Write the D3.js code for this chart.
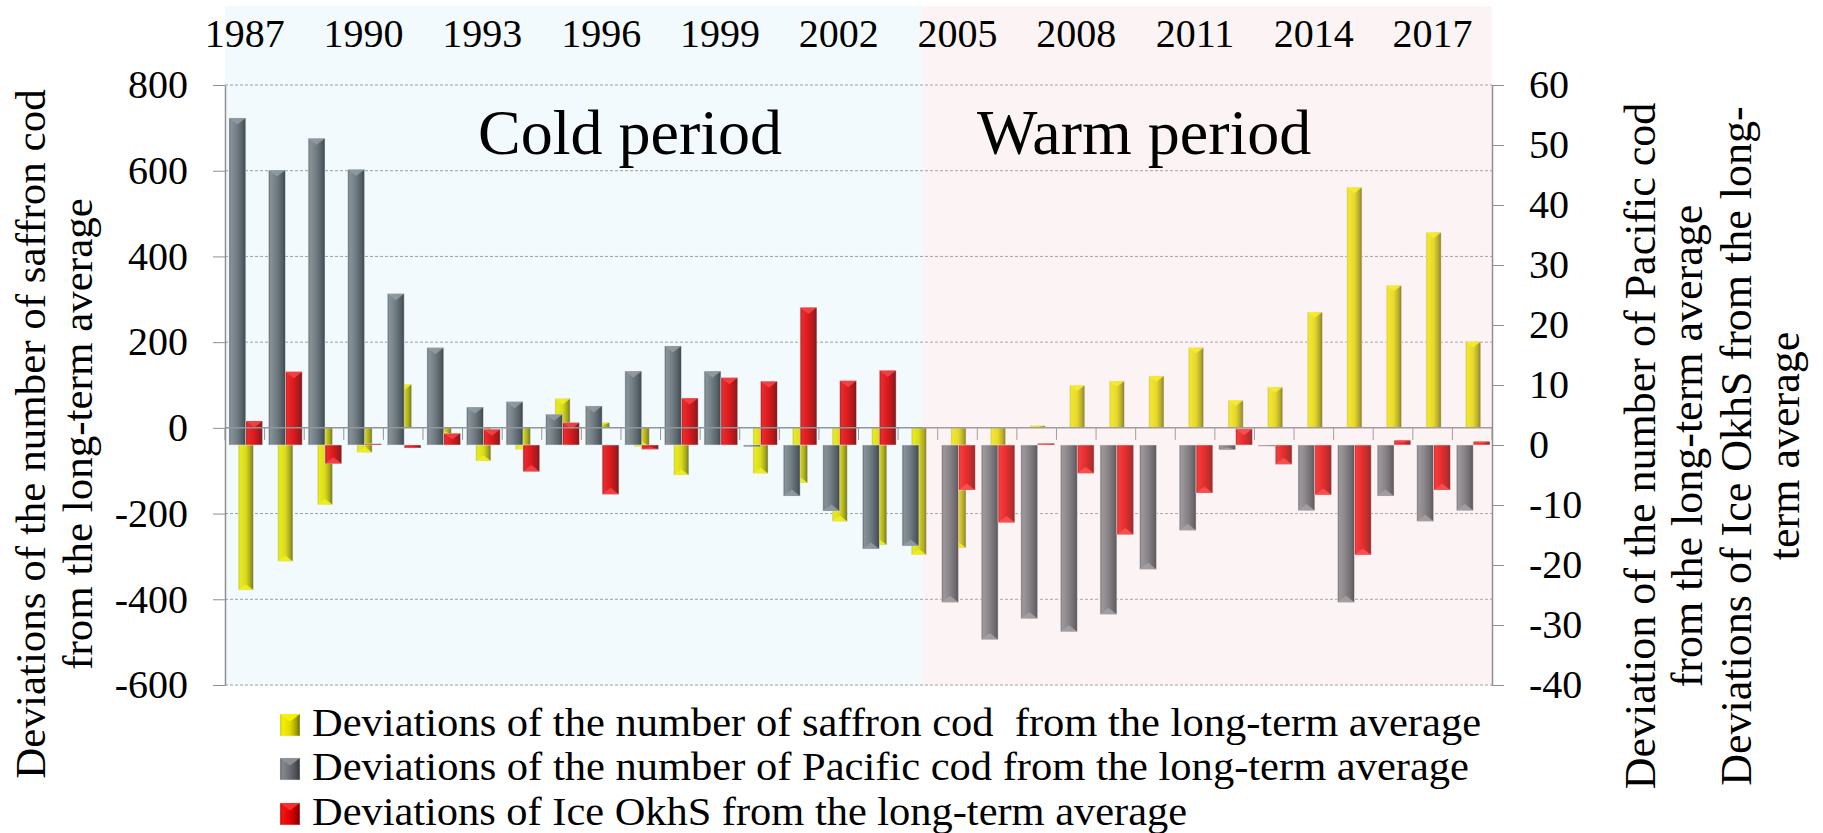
<!DOCTYPE html>
<html><head><meta charset="utf-8">
<script src="https://cdn.jsdelivr.net/npm/d3@7"></script>
<style>
html,body{margin:0;padding:0;background:#fff;}
svg{display:block;font-family:"Liberation Serif","Times New Roman",serif;}
</style></head><body>
<svg id="chart" width="1823" height="833"></svg>
<script>
// ---------------- DATA ----------------
const years = [1987,1988,1989,1990,1991,1992,1993,1994,1995,1996,1997,1998,1999,2000,2001,2002,
               2003,2004,2005,2006,2007,2008,2009,2010,2011,2012,2013,2014,2015,2016,2017,2018];
const yearTickLabels = [1987,1990,1993,1996,1999,2002,2005,2008,2011,2014,2017];
// saffron cod deviations (left axis)
const saffronCod = [-378,-311,-179,-57,101,-15,-77,-50,68,12,-44,-110,20,-106,-128,-218,
                    -273,-296,-280,-150,5,99,109,121,187,64,95,270,561,332,456,201];
// Pacific cod deviations (right axis)
const pacificCod = [54.5,45.8,51.1,45.9,25.2,16.2,6.3,7.2,5.1,6.5,12.3,16.5,12.3,-0.3,-8.5,-11.0,
                    -17.3,-16.8,-26.2,-32.4,-28.9,-31.1,-28.2,-20.7,-14.2,-0.8,-0.2,-10.9,-26.2,-8.5,-12.7,-10.9];
// Ice OkhS deviations (right axis)
const iceOkhS = [4.0,12.2,-3.1,0.2,-0.5,1.9,2.6,-4.4,3.7,-8.2,-0.7,7.8,11.2,10.6,22.9,10.7,
                 12.4,0,-7.5,-12.9,0.3,-4.7,-14.9,0,-8.0,2.7,-3.2,-8.3,-18.3,0.8,-7.5,0.6];
const leftTicks = [-600,-400,-200,0,200,400,600,800];
const rightTicks = [-40,-30,-20,-10,0,10,20,30,40,50,60];
const seriesNames = [
  "Deviations of the number of saffron cod  from the long-term average",
  "Deviations of the number of Pacific cod from the long-term average",
  "Deviations of Ice OkhS from the long-term average"
];
const periodLabels = ["Cold period","Warm period"];
const leftTitle = ["Deviations of the number of saffron cod","from the long-term average"];
const rightTitle = ["Deviation of the number of Pacific cod","from the long-term average",
                    "Deviations of Ice OkhS from the long-","term average"];

// ---------------- LAYOUT ----------------
const svg = d3.select("#chart");
const P = {left:225, right:1492, top:85, bottom:685};
const x = d3.scaleBand().domain(years).range([P.left, P.right]);
const yL = d3.scaleLinear().domain([-600,800]).range([P.bottom, P.top]);
const yR = d3.scaleLinear().domain([-40,60]).range([P.bottom, P.top]);
const bw = x.bandwidth();

const defs = svg.append("defs");
const styles = {
  yellow:{stops:[[0,'#c9c400'],[0.12,'#f4ee00'],[0.5,'#e2dc00'],[0.8,'#a9a400'],[1,'#6a6600']], cap:'#faf400'},
  gray:{stops:[[0,'#55595d'],[0.12,'#85898d'],[0.45,'#6e7276'],[0.8,'#4c5054'],[1,'#303438']], cap:'#909498'},
  red:{stops:[[0,'#b00000'],[0.12,'#f41414'],[0.5,'#e20000'],[0.8,'#ac0000'],[1,'#760000']], cap:'#ff3030'}
};
Object.entries(styles).forEach(([k,s])=>{
  const g = defs.append("linearGradient").attr("id","g_"+k).attr("x1",0).attr("x2",1).attr("y1",0).attr("y2",0);
  s.stops.forEach(([o,c])=>g.append("stop").attr("offset",o).attr("stop-color",c));
});

// gridlines
svg.append("g").selectAll("line").data(leftTicks.filter(d=>d!==0)).join("line")
  .attr("x1",P.left).attr("x2",P.right).attr("y1",d=>yL(d)).attr("y2",d=>yL(d))
  .attr("stroke","#9a9a9a").attr("stroke-width",1).attr("stroke-dasharray","3,2");

function drawBar(g, x0, w, yZero, yVal, style){
  const top = Math.min(yZero,yVal), h = Math.abs(yVal-yZero);
  if (h <= 0) return;
  g.append("rect").attr("x",x0).attr("y",top).attr("width",w).attr("height",h)
    .attr("fill","url(#g_"+style+")").attr("stroke","rgba(235,235,235,0.7)").attr("stroke-width",0.7);
  const d = Math.min(w*0.38, h*0.5);
  if (d < 1) return;
  const pts = yVal < yZero
    ? [[x0,yVal],[x0+w,yVal],[x0+w/2,yVal+d]]
    : [[x0,yVal],[x0+w,yVal],[x0+w/2,yVal-d]];
  g.append("polygon").attr("points",pts.map(p=>p.join(",")).join(" "))
    .attr("fill",styles[style].cap).attr("opacity",0.9);
}

// primary series (saffron cod)
const gY = svg.append("g");
years.forEach((yr,i)=>{
  const c = x(yr)+bw/2+1;
  drawBar(gY, c-7.5, 15, yL(0), yL(saffronCod[i]), "yellow");
});
// secondary series (Pacific cod, ice)
const gS = svg.append("g");
years.forEach((yr,i)=>{
  const c = x(yr)+bw/2+1;
  drawBar(gS, c-16.8, 16.8, yR(0), yR(pacificCod[i]), "gray");
  drawBar(gS, c, 16.8, yR(0), yR(iceOkhS[i]), "red");
});

// category axis line at left zero + ticks at band boundaries
const axC = svg.append("g").attr("stroke","#8f8f8f");
axC.append("line").attr("x1",P.left).attr("x2",P.right).attr("y1",yL(0)).attr("y2",yL(0)).attr("stroke-width",1.5);
axC.selectAll("line.t").data(years.concat([null])).join("line").attr("class","t")
  .attr("x1",(d,i)=>P.left+i*bw).attr("x2",(d,i)=>P.left+i*bw)
  .attr("y1",yL(0)).attr("y2",yL(0)+12).attr("stroke-width",1);

// period overlays
const boundary = x(2004)+bw*0.62;
svg.append("rect").attr("x",P.left).attr("y",6).attr("width",boundary-P.left).attr("height",P.bottom-6)
  .attr("fill","rgb(155,210,235)").attr("opacity",0.12);
svg.append("rect").attr("x",boundary).attr("y",6).attr("width",P.right-boundary).attr("height",P.bottom-6)
  .attr("fill","rgb(240,205,205)").attr("opacity",0.22);

// left axis
const axL = svg.append("g").attr("transform",`translate(${P.left},0)`)
  .call(d3.axisLeft(yL).tickValues(leftTicks).tickFormat(d=>String(d)).tickSize(12).tickPadding(25).tickSizeOuter(0));
axL.select(".domain").attr("stroke","#8f8f8f").attr("stroke-width",1.5);
axL.selectAll(".tick line").attr("stroke","#8f8f8f");
axL.selectAll("text").attr("font-family","Liberation Serif").attr("font-size",40).attr("fill","#000");

// right axis
const axR = svg.append("g").attr("transform",`translate(${P.right},0)`)
  .call(d3.axisRight(yR).tickValues(rightTicks).tickFormat(d=>String(d)).tickSize(12).tickPadding(25).tickSizeOuter(0));
axR.select(".domain").attr("stroke","#8f8f8f").attr("stroke-width",1.5);
axR.selectAll(".tick line").attr("stroke","#8f8f8f");
axR.selectAll("text").attr("font-family","Liberation Serif").attr("font-size",40).attr("fill","#000");

// year labels at top
svg.append("g").selectAll("text").data(yearTickLabels).join("text")
  .attr("x",d=>x(d)+bw/2).attr("y",47).attr("text-anchor","middle")
  .attr("font-size",40).attr("fill","#000").text(d=>d);

// period labels
svg.append("text").attr("x",478).attr("y",154).attr("font-size",64).text(periodLabels[0]);
svg.append("text").attr("x",977).attr("y",154).attr("font-size",64).text(periodLabels[1]);

// left title
const ltX = [45,92];
leftTitle.forEach((t,i)=>{
  svg.append("text").attr("transform",`translate(${ltX[i]},434) rotate(-90)`)
    .attr("text-anchor","middle").attr("font-size",43).text(t);
});
// right title
const rtX = [1655,1702,1751,1799];
rightTitle.forEach((t,i)=>{
  svg.append("text").attr("transform",`translate(${rtX[i]},446) rotate(-90)`)
    .attr("text-anchor","middle").attr("font-size",44).text(t);
});

// legend
const legStyles = ["yellow","gray","red"];
const legY = [736,780,825];
const legW = [1169,1157,875];
seriesNames.forEach((n,i)=>{
  const g = svg.append("g");
  drawBar(g, 280, 20, legY[i], legY[i]-22, legStyles[i]);
  g.append("text").attr("x",312).attr("y",legY[i]).attr("font-size",40)
    .attr("textLength",legW[i]).attr("lengthAdjust","spacingAndGlyphs").style("white-space","pre").text(n);
});
</script>
</body></html>
